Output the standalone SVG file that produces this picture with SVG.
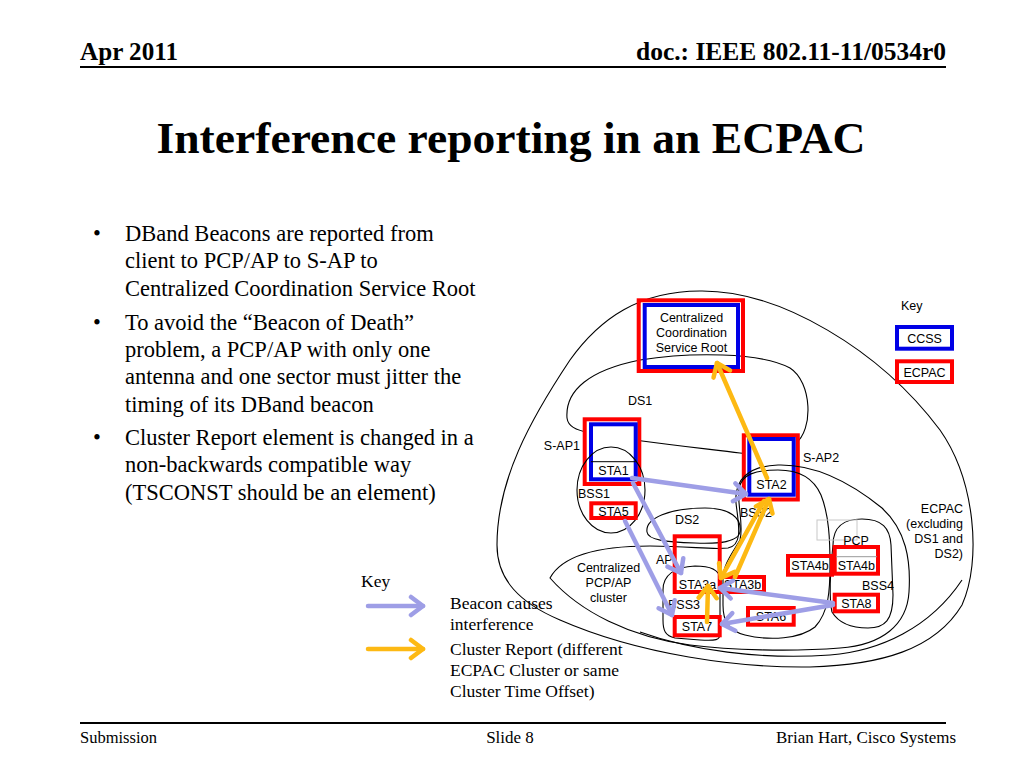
<svg xmlns="http://www.w3.org/2000/svg" width="1024" height="768" viewBox="0 0 1024 768">
<defs>
<style>
.hdr{font-family:"Liberation Serif","Times New Roman",serif;font-weight:bold;fill:#000}
.body{font-family:"Liberation Serif","Times New Roman",serif;font-size:22.5px;fill:#000}
.key{font-family:"Liberation Serif","Times New Roman",serif;font-size:17.5px;fill:#000}
.ft{font-family:"Liberation Serif","Times New Roman",serif;font-size:17px;fill:#000}
.lbl{font-family:"Liberation Sans",Arial,sans-serif;font-size:12.5px;fill:#000}
.mid{text-anchor:middle}
.end{text-anchor:end}
.blob{fill:none;stroke:#000;stroke-width:1.1}
.red{fill:none;stroke:#f00;stroke-width:4}
.blue{fill:none;stroke:#0000e6;stroke-width:4}
.wf{fill:#fff;stroke:none}
.beacon{fill:none;stroke:#9e9ee6;stroke-width:4.5;stroke-linecap:round}
.report{fill:none;stroke:#fdb913;stroke-width:4.5;stroke-linecap:round}
</style>
<marker id="hb" markerUnits="userSpaceOnUse" markerWidth="30" markerHeight="30" viewBox="-15 -15 30 30" refX="0" refY="0" orient="auto">
<path d="M-12,-9 L0,0 L-12,9" fill="none" stroke="#9e9ee6" stroke-width="4.5" stroke-linecap="round" stroke-linejoin="round"/>
</marker>
<marker id="ho" markerUnits="userSpaceOnUse" markerWidth="30" markerHeight="30" viewBox="-15 -15 30 30" refX="0" refY="0" orient="auto">
<path d="M-12,-9 L0,0 L-12,9" fill="none" stroke="#fdb913" stroke-width="4.5" stroke-linecap="round" stroke-linejoin="round"/>
</marker>
</defs>
<rect width="1024" height="768" fill="#fff"/>

<g id="header">
<text x="80" y="60" class="hdr" font-size="25" textLength="98" lengthAdjust="spacingAndGlyphs">Apr 2011</text>
<text x="946" y="60" class="hdr" font-size="25" text-anchor="end" textLength="310" lengthAdjust="spacingAndGlyphs">doc.: IEEE 802.11-11/0534r0</text>
<line x1="80" y1="67" x2="946" y2="67" stroke="#000" stroke-width="2"/>
<text x="511" y="153" class="hdr" font-size="45" text-anchor="middle" textLength="709" lengthAdjust="spacingAndGlyphs">Interference reporting in an ECPAC</text>
</g>

<g id="bullets" class="body">
<text x="93" y="241">•</text>
<text x="125" y="241">DBand Beacons are reported from</text>
<text x="125" y="268.3">client to PCP/AP to S-AP to</text>
<text x="125" y="295.6">Centralized Coordination Service Root</text>
<text x="93" y="329.6">•</text>
<text x="125" y="329.6">To avoid the “Beacon of Death”</text>
<text x="125" y="356.9">problem, a PCP/AP with only one</text>
<text x="125" y="384.2">antenna and one sector must jitter the</text>
<text x="125" y="411.5">timing of its DBand beacon</text>
<text x="93" y="445">•</text>
<text x="125" y="445">Cluster Report element is changed in a</text>
<text x="125" y="472.3">non-backwards compatible way</text>
<text x="125" y="499.6">(TSCONST should be an element)</text>
</g>

<g id="ecpac">
<path class="blob" d="M700,291 C780,290 880,350 940,430 C975,480 982,560 962,605 C935,650 880,665 810,667 C740,668 640,655 560,620 C520,603 497,580 497,545 C497,480 530,420 570,360 C600,318 640,291 700,291 Z"/>
<path class="blob" d="M640,632 C690,650 760,660 830,655 C880,651 930,628 962,580"/>
<text class="lbl end" x="963" y="512.5">ECPAC</text>
<text class="lbl end" x="963" y="527.5">(excluding</text>
<text class="lbl end" x="963" y="542.5">DS1 and</text>
<text class="lbl end" x="963" y="557.5">DS2)</text>
</g>

<g id="ds1">
<path class="blob" d="M567,418 C565,390 590,370 640,360 C690,352 760,352 790,368 C812,382 814,430 795,444 C780,454 760,456 740,453 C700,448 640,442 590,433 C575,430 568,426 567,418 Z"/>
<text class="lbl" x="628" y="405">DS1</text>
</g>

<g id="ccsr">
<rect class="red" x="638.7" y="300.3" width="104.3" height="70.7"/>
<rect class="blue" x="644.7" y="305" width="93.3" height="62"/>
<text class="lbl mid" x="691.5" y="321.5">Centralized</text>
<text class="lbl mid" x="691.5" y="336.5">Coordination</text>
<text class="lbl mid" x="691.5" y="351.5">Service Root</text>
</g>

<g id="sap1">
<rect class="wf" x="584.7" y="419.3" width="54.6" height="64.7"/>
<rect class="red" x="584.7" y="419.3" width="54.6" height="64.7"/>
<rect class="blue" x="591" y="424.3" width="44.7" height="55"/>
<line x1="591" y1="461.7" x2="635.7" y2="461.7" stroke="#000" stroke-width="1"/>
<text class="lbl mid" x="613.5" y="475" font-size="13">STA1</text>
<text class="lbl end" x="580" y="450">S-AP1</text>
</g>

<g id="sap2">
<rect class="wf" x="743.8" y="435.3" width="54" height="64.2"/>
<rect class="red" x="743.8" y="435.3" width="54" height="64.2"/>
<rect class="blue" x="749.3" y="439" width="44.4" height="55.7"/>
<text class="lbl mid" x="771.5" y="488.5">STA2</text>
<text class="lbl" x="803" y="461.5">S-AP2</text>
</g>

<g id="bss1">
<ellipse class="blob" cx="611" cy="490" rx="34" ry="43"/>
<text class="lbl" x="578" y="497.5">BSS1</text>
</g>

<g id="sta5">
<rect class="red" x="591.3" y="503.3" width="44.4" height="14.7"/>
<text class="lbl mid" x="613.5" y="515.5">STA5</text>
</g>

<g id="ds2">
<path class="blob" d="M647,532 C645,518 670,508 705,508 C730,508 742,518 740,532 C738,542 720,544 695,543 C665,542 648,540 647,532 Z"/>
<text class="lbl" x="675" y="523.5">DS2</text>
</g>

<g id="cluster">
<path class="blob" d="M550,578 C562,556 598,546 650,546 C690,546 712,550 728,548 C744,545 738,522 736,503 C734,480 748,466 778,465 C815,464 850,482 882,508 C906,530 911,560 909,592 C907,625 882,645 840,648 C790,652 730,650 690,645 C630,637 580,612 550,578 Z"/>
<text class="lbl mid" x="608.5" y="571.5">Centralized</text>
<text class="lbl mid" x="608.5" y="586.5">PCP/AP</text>
<text class="lbl mid" x="608.5" y="601.5">cluster</text>
</g>

<g id="bss2">
<path class="blob" d="M740,540 C744,525 737,505 739,489 C741,474 756,470 778,470 C800,470 814,479 821,495 C829,515 830,540 830,565 C830,590 829,612 815,627 C800,639 770,641 745,635 C729,631 723,622 723,605 L723,578 C723,565 733,552 740,540 Z"/>
<text class="lbl" x="740" y="516.5">BSS2</text>
</g>

<g id="bss3">
<path class="blob" d="M663,590 C663,575 675,567 695,566 C710,566 719,570 720,578 L720,634 C720,640 716,641 700,640 L675,638 C665,636 663,630 663,620 Z"/>
<text class="lbl" x="668" y="608.5">BSS3</text>
</g>

<g id="bss4">
<path class="blob" d="M833,545 C833,525 845,519 862,519 C882,519 890,528 891,545 L893,595 C893,620 885,628 868,628 C850,628 838,622 832,612 C829,600 830,570 833,545 Z"/>
<rect x="817" y="520" width="40" height="20" fill="none" stroke="#c8c8c8" stroke-width="1"/>
<text class="lbl" x="862" y="589.5">BSS4</text>
</g>

<g id="ap">
<rect class="red" x="674.7" y="536.3" width="45" height="55.7"/>
<text class="lbl" x="656" y="563.5">AP</text>
<text class="lbl mid" x="697.5" y="588.5" font-size="12">STA3a</text>
</g>

<g id="sta3b">
<rect class="red" x="720" y="577" width="44" height="15"/>
<text class="lbl mid" x="742.5" y="589" font-size="12">STA3b</text>
</g>

<g id="sta7">
<rect class="red" x="674.7" y="617" width="45" height="18.3"/>
<text class="lbl mid" x="697" y="630.5">STA7</text>
</g>

<g id="sta6">
<rect class="red" x="748" y="608" width="45.7" height="16.7"/>
<text class="lbl mid" x="771" y="621">STA6</text>
</g>

<g id="sta4b">
<rect class="red" x="788" y="556" width="44" height="18.7"/>
<text class="lbl mid" x="810" y="569.5" font-size="12">STA4b</text>
</g>

<g id="pcp">
<text class="lbl mid" x="856" y="545">PCP</text>
<rect class="red" x="834.7" y="547" width="43.3" height="26.7"/>
<line x1="836" y1="556.7" x2="877" y2="556.7" stroke="#999" stroke-width="1"/>
<text class="lbl mid" x="856.3" y="570" font-size="12">STA4b</text>
</g>

<g id="sta8">
<rect class="red" x="834.7" y="594.7" width="43.3" height="16.6"/>
<text class="lbl mid" x="856.3" y="607.5">STA8</text>
</g>

<g id="legend-boxes">
<text class="lbl" x="901" y="310">Key</text>
<rect class="blue" x="897" y="327" width="55" height="21.7"/>
<text class="lbl mid" x="924.5" y="342.5">CCSS</text>
<rect class="red" x="897" y="361.3" width="55" height="20.7"/>
<text class="lbl mid" x="924.5" y="376.5">ECPAC</text>
</g>

<g id="connectors">
<path class="beacon" d="M632,478 L746,494" marker-end="url(#hb)"/>
<path class="beacon" d="M633,483 L681,573" marker-end="url(#hb)"/>
<path class="beacon" d="M625,521 L672,615" marker-end="url(#hb)"/>
<path class="beacon" d="M833,603 L720,588" marker-end="url(#hb)"/>
<path class="beacon" d="M833,605 L722,624" marker-end="url(#hb)"/>
<path class="report" d="M767,478 L717,363" marker-end="url(#ho)"/>
<path class="report" d="M735,577 L769,499" marker-end="url(#ho)"/>
<path class="report" d="M764,501 L721,578" marker-end="url(#ho)"/>
<path class="report" d="M707,622 L708,586" marker-end="url(#ho)"/>
</g>

<g id="key">
<text class="key" x="361" y="586.5" font-size="16">Key</text>
<path class="beacon" d="M368,606 L423,606" marker-end="url(#hb)"/>
<path class="report" d="M368,649 L423,649" marker-end="url(#ho)"/>
<text class="key" x="450" y="609">Beacon causes</text>
<text class="key" x="450" y="630">interference</text>
<text class="key" x="450" y="655">Cluster Report (different</text>
<text class="key" x="450" y="676">ECPAC Cluster or same</text>
<text class="key" x="450" y="697">Cluster Time Offset)</text>
</g>

<g id="footer">
<line x1="80" y1="723" x2="946" y2="723" stroke="#000" stroke-width="2"/>
<text class="ft" x="80" y="743" textLength="77" lengthAdjust="spacingAndGlyphs">Submission</text>
<text class="ft" x="510" y="743" text-anchor="middle">Slide 8</text>
<text class="ft" x="956" y="743" text-anchor="end" textLength="180" lengthAdjust="spacingAndGlyphs">Brian Hart, Cisco Systems</text>
</g>
</svg>
